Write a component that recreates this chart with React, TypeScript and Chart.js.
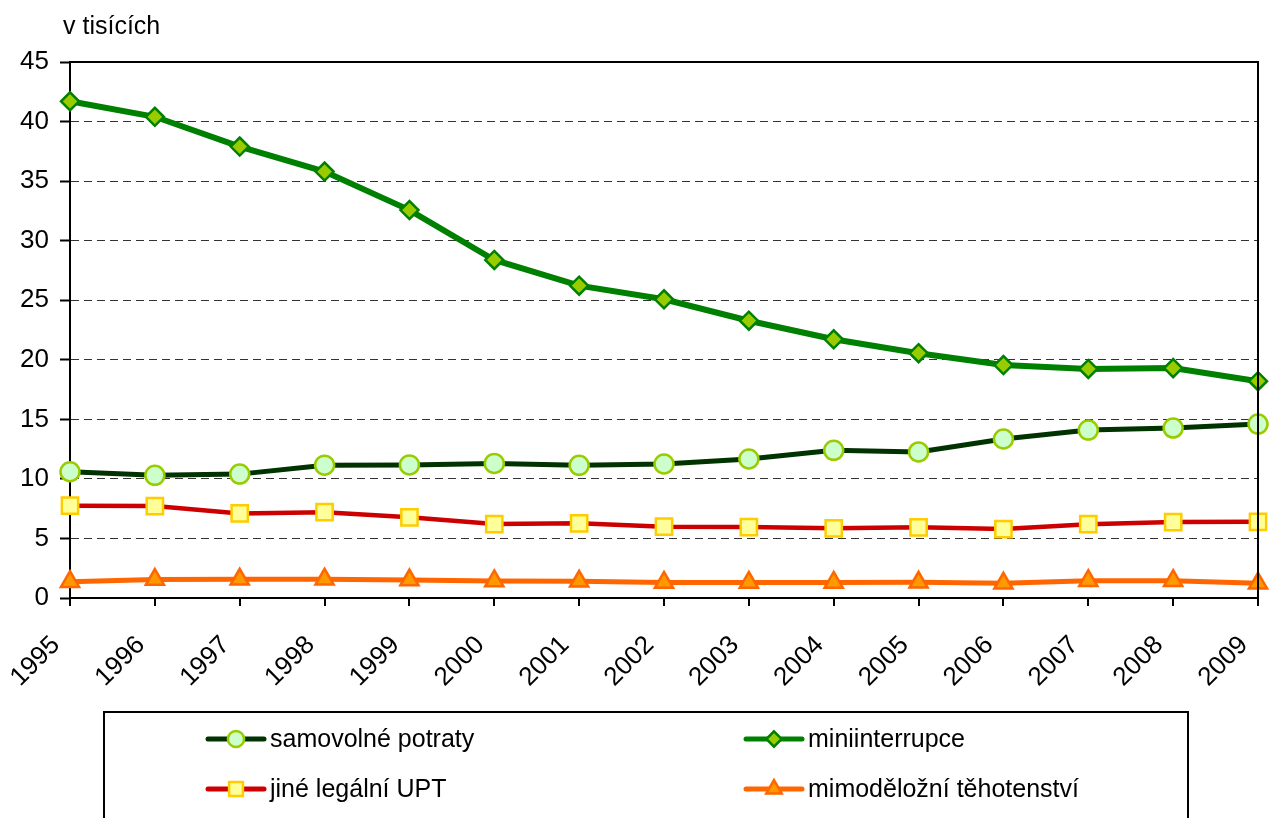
import React, { useEffect, useRef } from 'react';
import { Chart, registerables } from 'chart.js';

Chart.register(...registerables);

const years = ['1995', '1996', '1997', '1998', '1999', '2000', '2001', '2002', '2003', '2004', '2005', '2006', '2007', '2008', '2009'];
const samovolnePotraty = [10.6, 10.3, 10.4, 11.15, 11.17, 11.3, 11.14, 11.25, 11.67, 12.4, 12.26, 13.35, 14.1, 14.27, 14.6];
const miniinterrupce = [41.7, 40.4, 37.9, 35.8, 32.57, 28.38, 26.22, 25.08, 23.28, 21.72, 20.55, 19.56, 19.23, 19.3, 18.2];
const jineLegalniUPT = [7.75, 7.72, 7.1, 7.2, 6.77, 6.21, 6.27, 5.99, 5.96, 5.85, 5.93, 5.79, 6.2, 6.38, 6.4];
const mimodelozni = [1.37, 1.55, 1.57, 1.57, 1.51, 1.43, 1.4, 1.31, 1.31, 1.31, 1.32, 1.23, 1.45, 1.45, 1.23];
const yMin = 0;
const yMax = 45;
const yStep = 5;
const unitLabel = 'v tisících';
const seriesNames = ['samovolné potraty', 'miniinterrupce', 'jiné legální UPT', 'mimoděložní těhotenství'];

const FONT = '"Liberation Sans", Arial, sans-serif';

function drawMarker(ctx: CanvasRenderingContext2D, style: string, x: number, y: number, r: number) {
  ctx.beginPath();
  if (style === 'circle') {
    ctx.arc(x, y, r, 0, Math.PI * 2);
  } else if (style === 'rectRot') {
    ctx.moveTo(x, y - r);
    ctx.lineTo(x + r, y);
    ctx.lineTo(x, y + r);
    ctx.lineTo(x - r, y);
  } else if (style === 'rect') {
    const s = r * Math.SQRT1_2;
    ctx.rect(x - s, y - s, 2 * s, 2 * s);
  } else if (style === 'triangle') {
    const a = (2 * Math.PI) / 3;
    ctx.moveTo(x, y - r);
    ctx.lineTo(x + Math.sin(a) * r, y - Math.cos(a) * r);
    ctx.lineTo(x + Math.sin(2 * a) * r, y - Math.cos(2 * a) * r);
  }
  ctx.closePath();
  ctx.fill();
  ctx.stroke();
}

const extrasPlugin = {
  id: 'extras',
  afterDraw(chart: any) {
    const ctx: CanvasRenderingContext2D = chart.ctx;
    const { left, right, top, bottom } = chart.chartArea;
    ctx.save();
    // top and right border of plot area
    ctx.strokeStyle = '#000';
    ctx.lineWidth = 2;
    ctx.beginPath();
    ctx.moveTo(left, top);
    ctx.lineTo(right, top);
    ctx.lineTo(right, bottom);
    ctx.stroke();

    // unit label
    ctx.fillStyle = '#000';
    ctx.font = `25px ${FONT}`;
    ctx.textAlign = 'left';
    ctx.textBaseline = 'alphabetic';
    ctx.fillText(unitLabel, 63, 34);

    // legend box
    ctx.lineWidth = 2;
    ctx.strokeStyle = '#000';
    ctx.strokeRect(104, 712, 1084, 140);

    const positions = [
      { x: 208, y: 739 },
      { x: 746, y: 739 },
      { x: 208, y: 789 },
      { x: 746, y: 789 },
    ];
    chart.data.datasets.forEach((ds: any, i: number) => {
      const p = positions[i];
      const lineLen = 56;
      ctx.strokeStyle = ds.borderColor;
      ctx.lineWidth = 5;
      ctx.lineCap = 'round';
      ctx.beginPath();
      ctx.moveTo(p.x, p.y);
      ctx.lineTo(p.x + lineLen, p.y);
      ctx.stroke();
      ctx.lineCap = 'butt';
      ctx.fillStyle = ds.pointBackgroundColor;
      ctx.strokeStyle = ds.pointBorderColor;
      ctx.lineWidth = ds.pointBorderWidth;
      drawMarker(ctx, ds.pointStyle, p.x + lineLen / 2, p.y, ds.pointRadius * 0.85);
      ctx.fillStyle = '#000';
      ctx.font = `25px ${FONT}`;
      ctx.textAlign = 'left';
      ctx.textBaseline = 'middle';
      ctx.fillText(ds.label, p.x + lineLen + 6, p.y + 1);
    });
    ctx.restore();
  },
};

export default function App() {
  const canvasRef = useRef<HTMLCanvasElement | null>(null);

  useEffect(() => {
    if (!canvasRef.current) return;
    const chart = new Chart(canvasRef.current, {
      type: 'line',
      data: {
        labels: years,
        datasets: [
          {
            label: seriesNames[0],
            data: samovolnePotraty,
            borderColor: '#003300',
            borderWidth: 5,
            pointStyle: 'circle',
            pointRadius: 9.5,
            pointBackgroundColor: '#CCFFCC',
            pointBorderColor: '#99CC00',
            pointBorderWidth: 2.5,
            tension: 0,
            order: 2,
          },
          {
            label: seriesNames[1],
            data: miniinterrupce,
            borderColor: '#008000',
            borderWidth: 6,
            pointStyle: 'rectRot',
            pointRadius: 9,
            pointBackgroundColor: '#99CC00',
            pointBorderColor: '#008000',
            pointBorderWidth: 2.5,
            tension: 0,
            order: 1,
          },
          {
            label: seriesNames[2],
            data: jineLegalniUPT,
            borderColor: '#CC0000',
            borderWidth: 4.5,
            pointStyle: 'rect',
            pointRadius: 11.5,
            pointBackgroundColor: '#FFFF99',
            pointBorderColor: '#FFCC00',
            pointBorderWidth: 2.5,
            tension: 0,
            order: 3,
          },
          {
            label: seriesNames[3],
            data: mimodelozni,
            borderColor: '#FF6600',
            borderWidth: 5,
            pointStyle: 'triangle',
            pointRadius: 10.5,
            pointBackgroundColor: '#FF9900',
            pointBorderColor: '#FF6600',
            pointBorderWidth: 2.5,
            tension: 0,
            order: 4,
          },
        ] as any,
      },
      options: {
        animation: false,
        responsive: false,
        maintainAspectRatio: false,
        layout: { padding: { left: 0, top: 62, right: 9, bottom: 0 } },
        plugins: {
          legend: { display: false },
          tooltip: { enabled: false },
          title: { display: false },
        },
        scales: {
          x: {
            type: 'category',
            offset: false,
            grid: {
              drawOnChartArea: false,
              drawTicks: true,
              tickLength: 8,
              tickColor: '#000',
              lineWidth: 2,
            },
            border: { display: true, color: '#000', width: 2 },
            ticks: {
              color: '#000',
              font: { family: FONT, size: 26 },
              maxRotation: 45,
              minRotation: 45,
              autoSkip: false,
              padding: 24,
              labelOffset: -14,
            },
            afterFit: (scale: any) => {
              scale.height = 220;
              scale.paddingLeft = 0;
              scale.paddingRight = 0;
            },
          },
          y: {
            min: yMin,
            max: yMax,
            grid: {
              color: '#333',
              lineWidth: 1,
              drawTicks: true,
              tickLength: 10,
              tickColor: '#000',
              tickWidth: 2,
              tickBorderDash: [],
            },
            border: { display: true, color: '#000', width: 2, dash: [8, 5] },
            ticks: {
              stepSize: yStep,
              color: '#000',
              font: { family: FONT, size: 26 },
              padding: 11,
            },
            afterFit: (scale: any) => {
              scale.width = 70;
            },
          },
        },
      },
      plugins: [extrasPlugin],
    });
    return () => chart.destroy();
  }, []);

  return (
    <div style={{ position: 'fixed', left: 0, top: 0, width: 1272, height: 818, background: '#fff' }}>
      <canvas ref={canvasRef} width={1272} height={818} style={{ width: 1272, height: 818 }} />
    </div>
  );
}
